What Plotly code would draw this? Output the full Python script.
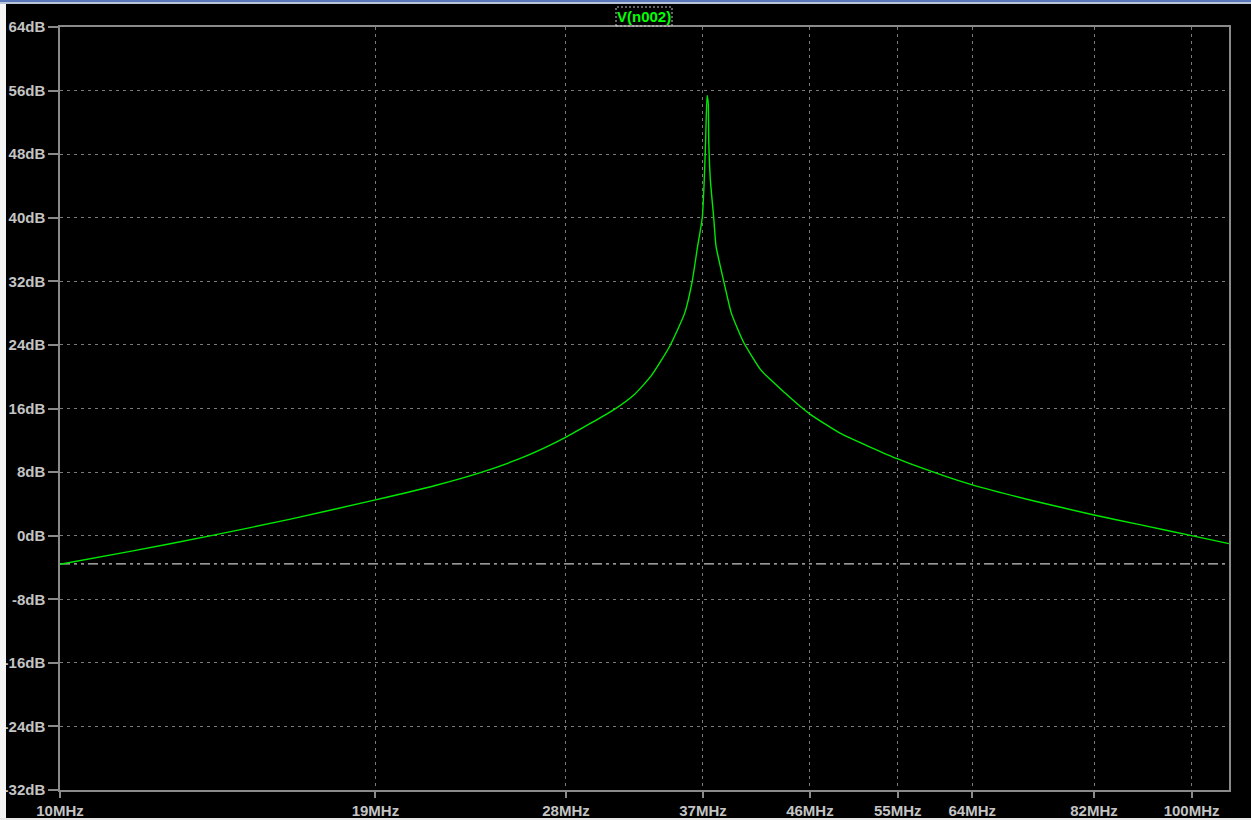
import plotly.graph_objects as go

# ---- data (frequency in MHz, magnitude in dB) ----
freq_mhz = [10.0, 11.57, 13.6, 15.95, 19.0, 21.5, 23.6, 25.8, 28.0,
            30.9, 32.2, 33.3, 34.6, 35.65, 36.2, 36.6, 36.95, 37.1, 37.2,
            37.31, 37.40, 37.44, 37.56, 37.82, 38.0, 38.6, 39.2, 40.2, 41.6,
            42.4, 44.9, 46.0, 48.9, 55.0, 60.1, 64.0, 72.9, 82.0, 90.2,
            100.0, 107.9]
mag_db = [-3.6, -1.95, 0.0, 2.05, 4.5, 6.35, 8.0, 10.0, 12.4,
          15.9, 17.8, 20.1, 23.9, 28.0, 32.0, 36.4, 40.0, 44.8, 49.6,
          55.4, 54.4, 49.6, 44.8, 40.0, 36.4, 32.0, 28.0, 24.3, 20.9,
          19.7, 16.5, 15.3, 12.9, 9.65, 7.65, 6.4, 4.3, 2.6, 1.35,
          0.0, -1.0]

# dash-dot reference trace (flat)
ref_freq = [10.0, 107.9]
ref_db = [-3.56, -3.56]

x_tick_vals = [10, 19, 28, 37, 46, 55, 64, 82, 100]
x_tick_text = ["10MHz", "19MHz", "28MHz", "37MHz", "46MHz", "55MHz", "64MHz", "82MHz", "100MHz"]
y_tick_vals = [-32, -24, -16, -8, 0, 8, 16, 24, 32, 40, 48, 56, 64]
y_tick_text = [f"{v}dB" for v in y_tick_vals]
trace_name = "V(n002)"

W, H = 1251, 820
L, R, T, B = 60, 22, 27, 30
pw, ph = W - L - R, H - T - B


def px(xp):
    return (xp - L) / pw


def py(yp):
    return (H - B - yp) / ph


fig = go.Figure()
fig.add_trace(go.Scatter(x=ref_freq, y=ref_db, mode="lines",
                         line=dict(color="#c8c8c8", width=1.2,
                                   dash="10px,4px,3px,4px,3px,4px"),
                         hoverinfo="skip", showlegend=False))
fig.add_trace(go.Scatter(x=freq_mhz, y=mag_db, mode="lines", name=trace_name,
                         line=dict(color="#00e800", width=1.4, shape="spline", smoothing=0.5),
                         showlegend=False))

tick_font = dict(family="Liberation Sans, Arial, sans-serif", size=15,
                 color="#c4c4c4", weight="bold")

fig.update_xaxes(type="log", range=[1.0, 2.0331], automargin=False,
                 tickvals=x_tick_vals, ticktext=x_tick_text,
                 showgrid=True, gridcolor="#7a7a7a", griddash="3px,4px", gridwidth=1,
                 showline=True, linecolor="#8a8a8a", linewidth=1.5, mirror=True,
                 ticks="outside", ticklen=6, tickcolor="#8a8a8a", tickwidth=1.5,
                 tickfont=tick_font, zeroline=False)
fig.update_yaxes(range=[-32, 64], tickvals=y_tick_vals, ticktext=y_tick_text, automargin=False,
                 showgrid=True, gridcolor="#7a7a7a", griddash="3px,4px", gridwidth=1,
                 showline=True, linecolor="#8a8a8a", linewidth=1.5, mirror=True,
                 ticks="outside", ticklen=10, tickcolor="#8a8a8a", tickwidth=1.5,
                 tickfont=tick_font, zeroline=False)

shapes = [
    # window chrome: left white strip
    dict(type="rect", xref="paper", yref="paper", x0=px(0), x1=px(6), y0=py(H), y1=py(0),
         fillcolor="#f4f4f4", line=dict(width=0), layer="above"),
    # top bar
    dict(type="rect", xref="paper", yref="paper", x0=px(0), x1=px(W), y0=py(2), y1=py(0),
         fillcolor="#5a78b8", line=dict(width=0), layer="above"),
    dict(type="rect", xref="paper", yref="paper", x0=px(0), x1=px(W), y0=py(4), y1=py(2),
         fillcolor="#b8c4d8", line=dict(width=0), layer="above"),
    # bottom strip
    dict(type="rect", xref="paper", yref="paper", x0=px(0), x1=px(W), y0=py(H), y1=py(818),
         fillcolor="#e8e8e8", line=dict(width=0), layer="above"),
    # dashed box around trace label
    dict(type="rect", xref="paper", yref="paper", x0=px(616), x1=px(672), y0=py(26), y1=py(7),
         fillcolor="rgba(0,0,0,0)", line=dict(color="#c8c8c8", width=1, dash="2px,2px")),
]

fig.update_layout(
    width=W, height=H,
    margin=dict(l=L, r=R, t=T, b=B, pad=0),
    paper_bgcolor="#000000", plot_bgcolor="#000000",
    shapes=shapes,
    annotations=[dict(text=trace_name, xref="paper", yref="paper",
                      x=px(644), y=py(16.5), xanchor="center", yanchor="middle",
                      showarrow=False,
                      font=dict(family="Liberation Sans, Arial, sans-serif", size=15,
                                color="#00ff00", weight="bold"))],
)

fig.write_html("out.html", config={"displayModeBar": False},
               post_script="document.body.style.margin='0';document.body.style.overflow='hidden';")
